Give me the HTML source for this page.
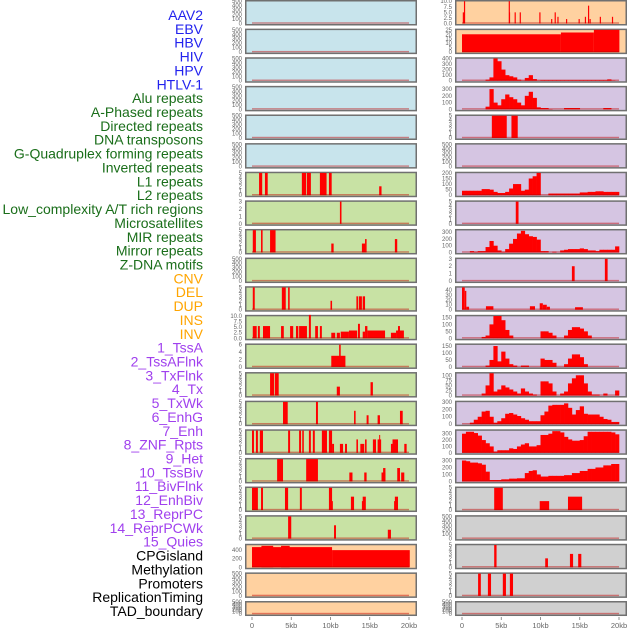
<!DOCTYPE html>
<html><head><meta charset="utf-8">
<style>
html,body{margin:0;padding:0;background:#fff;}
svg{display:block;font-family:"Liberation Sans",sans-serif;}
</style></head>
<body>
<svg id="chart" width="630" height="630" viewBox="0 0 630 630" xmlns="http://www.w3.org/2000/svg"></svg>
<script>
const labels = ["AAV2","EBV","HBV","HIV","HPV","HTLV-1","Alu repeats","A-Phased repeats","Directed repeats","DNA transposons","G-Quadruplex forming repeats","Inverted repeats","L1 repeats","L2 repeats","Low_complexity A/T rich regions","Microsatellites","MIR repeats","Mirror repeats","Z-DNA motifs","CNV","DEL","DUP","INS","INV","1_TssA","2_TssAFlnk","3_TxFlnk","4_Tx","5_TxWk","6_EnhG","7_Enh","8_ZNF_Rpts","9_Het","10_TssBiv","11_BivFlnk","12_EnhBiv","13_ReprPC","14_ReprPCWk","15_Quies","CPGisland","Methylation","Promoters","ReplicationTiming","TAD_boundary"];
const labelGroups = [6,13,5,15,5];
const groupColors = ["#2222ee","#1a6e1a","#ffa500","#a040ee","#000000"];
const xTicks = [0,5,10,15,20];
const xTickLabels = ["0","5kb","10kb","15kb","20kb"];
const leftBg = ["b","b","b","b","b","b","g","g","g","g","g","g","g","g","g","g","g","g","g","o","o","o"];
const rightBg = ["o","o","p","p","p","p","p","p","p","p","p","p","p","p","p","p","p","y","y","y","y","y"];
const T500 = ["0","100","200","300","400","500"];
const T5 = ["0","1","2","3","4","5"];
const leftTicks = [T500,T500,T500,T500,T500,T500,T5,["0","1","2","3"],T5,T500,T5,["0.0","2.5","5.0","7.5","10.0"],["0","2","4","6"],T5,T5,T5,T5,T5,T5,["0","200","400"],T500,T500];
const leftMax = [500,500,500,500,500,500,5,3,5,500,5,10,6,5,5,5,5,5,5,520,500,500];
const rightTicks = [["0.0","2.5","5.0","7.5","10.0"],["0","5","10","15","20","25"],["0","100","200","300","400"],["0","100","200","300"],T5,T500,["0","50","100","150","200"],T5,["0","100","200","300"],["0","1","2","3"],["0","10","20","30","40"],["0","50","100","150"],["0","50","100","150"],["0","25","50","75","100"],["0","100","200","300"],["0","100","200","300"],["0","100","200","300"],T5,T500,T5,T5,T500];
const rightMax = [10,25,400,330,5,500,200,5,330,3,45,160,160,110,300,350,320,5,500,5,5,500];

// segments [startKb, endKb, value]
const leftSegs = {
 6:[[0.9,1.3,5],[1.65,2.0,5],[6.35,6.9,5],[7.0,7.5,5],[8.65,9.5,5],[9.8,10.15,5],[16.2,16.5,2]],
 7:[[11.2,11.4,3]],
 8:[[0.1,0.5,5],[1.15,1.35,5],[2.3,3.0,5],[10.1,10.4,2],[14.0,14.4,2],[14.4,14.6,3],[18.2,18.5,3]],
 10:[[0.1,0.35,5],[3.8,4.3,5],[4.6,4.8,5],[10.0,10.2,2],[13.3,13.5,3],[13.6,14.0,3],[14.1,14.4,3]],
 11:[[0.1,0.6,5.5],[0.75,1.0,5.5],[1.4,2.3,5.5],[3.7,4.05,5.5],[4.85,5.25,5.5],[5.6,5.9,5.5],[6.0,7.0,5.5],[7.25,7.5,10.5],[8.05,8.4,5.5],[8.65,8.9,5.5],[10.1,10.6,2.5],[10.8,11.2,2.5],[11.3,12.35,3],[12.35,13.4,3.5],[13.5,13.75,6.5],[14.1,14.4,3],[14.4,14.7,5.5],[14.7,16.95,3.5],[17.7,18.35,2.5],[18.35,19.35,3.5],[18.6,18.85,5.5]],
 12:[[10.1,11.9,3],[11.1,11.3,6]],
 13:[[2.3,2.8,5],[2.9,3.4,5],[10.8,11.2,2],[15.1,15.4,3]],
 14:[[3.95,4.55,5],[8.15,8.4,5],[13.0,13.2,3],[14.6,14.85,2],[16.0,16.3,2],[18.85,19.2,3]],
 15:[[0,0.25,5],[0.5,0.75,5],[1.0,1.4,5],[4.6,4.85,5],[6.0,6.25,5],[6.4,6.6,5],[7.25,7.5,5],[7.75,8.0,5],[8.9,9.55,5],[9.8,10.2,5],[10.2,10.45,2],[11.2,11.6,2],[11.85,12.1,2],[13.3,13.5,3],[13.8,14.3,2],[14.4,14.6,3],[15.4,15.8,3],[16.0,16.45,3],[16.2,16.3,4],[17.7,17.9,2],[17.9,18.6,3],[19.4,19.7,2]],
 16:[[3.2,3.95,5],[6.9,8.4,5],[12.4,12.8,2],[14.3,14.6,2],[16.5,17.0,2],[16.7,17.0,3],[18.5,18.85,3],[19.0,19.4,2]],
 17:[[0,0.75,5],[1.15,1.4,5],[4.2,4.6,5],[6.1,6.35,5],[9.8,10.2,5],[10.15,10.3,2],[12.6,13.0,3],[14.0,14.3,2],[14.1,14.5,3],[18.1,18.3,2],[18.2,18.6,3]],
 18:[[4.6,5.0,5],[10.45,10.7,3],[17.3,17.7,2]],
 19:[[0,10.2,470],[1.2,2.7,500],[3.7,4.8,500],[10.2,20.1,400]]
};
const rightSegs = {
 0:[[0.1,0.25,5],[0.25,0.4,10],[5.95,6.1,10],[6.0,6.1,5],[6.7,6.85,5],[7.35,7.5,5],[9.85,10.0,5],[11.35,11.5,2],[11.8,11.95,5],[12.15,12.3,3],[13.25,13.4,2],[14.85,15.0,2],[15.65,15.8,3],[16.05,16.2,8],[16.25,16.4,2],[17.55,17.7,3],[19.1,19.25,3]],
 1:[[0,12.6,20],[12.6,16.8,22],[16.8,20.05,25]],
 4:[[3.8,5.7,5],[6.3,7.1,5]],
 7:[[6.85,7.2,5]],
 9:[[14.0,14.35,2],[18.2,18.55,3]],
 10:[[0,0.35,45],[0.35,0.55,38],[0.55,0.9,6],[3.05,4.0,7],[8.65,9.3,7],[9.9,10.3,13],[10.3,10.8,10],[10.8,11.2,6],[14.4,15.4,5]],
 17:[[4.1,5.2,5],[9.9,11.1,2],[13.5,15.3,3]],
 19:[[4.1,4.4,5],[10.6,10.95,2],[13.75,14.15,3],[14.8,15.2,3]],
 20:[[2.05,2.4,5],[3.3,3.7,5],[5.2,5.6,5],[6.1,6.5,5]]
};
// profile values in 0.5kb bins starting at 0kb
const rightBins = {
 2:[0,0,0,0,0,0,20,60,400,350,200,100,80,60,20,5,50,100,30,5,10,10,10,10,10,10,10,10,10,10,10,10,10,10,10,10,10,25,5,0],
 3:[0,0,0,0,0,0,40,300,100,60,150,220,180,150,100,60,200,260,170,30,20,20,5,0,0,0,20,20,20,20,0,0,0,0,0,0,20,20,0,0],
 6:[40,40,40,40,40,55,55,50,30,20,20,30,60,100,100,40,50,150,170,200,0,0,15,15,15,15,15,15,15,15,25,25,30,30,35,35,30,30,30,30],
 8:[0,0,20,10,20,20,80,170,100,30,10,50,130,200,280,320,270,240,230,190,20,20,0,10,0,30,40,50,50,50,60,50,30,30,20,40,40,40,40,90],
 11:[0,0,0,0,0,10,20,100,160,160,130,60,20,0,0,0,0,0,0,0,50,50,40,20,0,0,20,60,80,80,70,50,20,0,0,0,0,0,0,0],
 12:[0,0,0,0,0,0,10,50,150,40,110,60,20,10,0,10,10,0,0,0,60,50,50,30,0,0,20,60,90,90,70,20,0,0,0,0,0,0,0,0],
 13:[0,0,0,0,0,10,50,110,20,30,50,40,30,20,10,35,20,10,5,0,70,70,60,20,0,10,20,60,85,100,100,60,20,5,5,0,10,0,0,25],
 14:[0,0,20,60,100,170,180,100,20,40,80,140,150,130,110,80,60,40,40,40,120,170,250,260,260,260,280,220,130,190,240,140,130,130,130,100,70,60,30,30],
 15:[300,330,330,310,270,200,150,100,20,40,40,40,70,60,100,130,150,100,100,120,280,280,300,340,340,320,250,210,190,190,200,260,330,330,330,330,330,330,320,290],
 16:[300,290,270,270,260,240,140,20,20,20,30,30,40,40,45,45,120,150,160,100,70,70,80,80,80,80,90,90,120,120,150,150,180,180,200,200,230,230,250,250]
};

const svg = document.getElementById('chart');
const NS = 'http://www.w3.org/2000/svg';
const bgColor = {b:"#c8e4ec", g:"#c8e2a4", o:"#ffd1a0", p:"#d5c5e2", y:"#d0d0d0"};
const panelX = [245, 455];
const panelW = 172;
const rowStep = 28.62;
function mk(tag, attrs){ const e=document.createElementNS(NS,tag); for(const k in attrs) e.setAttribute(k,attrs[k]); return e; }
function xScale(side, kb){ return panelX[side] + 7 + kb*7.85; }
function rowTop(i){ return i*rowStep; }
function rowH(i){ return i===21 ? 15 : 25.5; }
function yScale(i, v, max){ const t=rowTop(i), h=rowH(i); const y0=t+h-2, y1=t+1.2; return y0 - (v/max)*(y0-y1); }

// labels
let li=0;
labelGroups.forEach((n,g)=>{
  for(let k=0;k<n;k++){
    const t = mk('text',{x:203,y:(15+li*13.86+5).toFixed(1),'text-anchor':'end','font-size':'14',fill:groupColors[g]});
    
    
    t.textContent = labels[li];
    svg.appendChild(t);
    li++;
  }
});

function drawPanel(side, i){
  const bg = side===0 ? leftBg[i] : rightBg[i];
  const ticks = side===0 ? leftTicks[i] : rightTicks[i];
  const max = side===0 ? leftMax[i] : rightMax[i];
  const g = mk('g',{});
  
  
  svg.appendChild(g);
  const t=rowTop(i), h=rowH(i);
  const r = mk('rect',{x:panelX[side]+0.75,y:t+0.75,width:panelW-1.5,height:h-1.5,fill:bgColor[bg],stroke:'#707070','stroke-width':1.5});
  
  
  g.appendChild(r);
  ticks.forEach(s=>{
    const v=parseFloat(s);
    const tx = mk('text',{x:panelX[side]-3,y:(yScale(i,v,max)+2).toFixed(1),'text-anchor':'end','font-size':'6',fill:'#666'});
    
    
    tx.textContent=s;
    g.appendChild(tx);
  });
  const y0 = yScale(i,0,max);
  const segs = (side===0?leftSegs:rightSegs)[i] || [];
  segs.forEach(sg=>{
    const x1=xScale(side,sg[0]), x2=xScale(side,sg[1]), y=yScale(i,sg[2],max);
    const b=mk('rect',{x:x1.toFixed(2),y:y.toFixed(2),width:Math.max(1,x2-x1).toFixed(2),height:(y0-y).toFixed(2),fill:'#ff0000'});
    
    
    g.appendChild(b);
  });
  const bins = side===1 ? rightBins[i] : null;
  if(bins){
    bins.forEach((v,k)=>{
      if(v<=0) return;
      const x1=xScale(side,k*0.5), x2=xScale(side,k*0.5+0.5), y=yScale(i,v,max);
      const b=mk('rect',{x:x1.toFixed(2),y:y.toFixed(2),width:(x2-x1+0.3).toFixed(2),height:(y0-y).toFixed(2),fill:'#ff0000'});
      
      
      g.appendChild(b);
    });
  }
  const base=mk('rect',{x:xScale(side,0),y:y0-1.2,width:xScale(side,20)-xScale(side,0),height:1.4,fill:'rgba(190,0,0,0.45)'});
  
  
  g.appendChild(base);
}
for(let i=0;i<22;i++){ drawPanel(0,i); drawPanel(1,i); }

// x axes
[0,1].forEach(side=>{
  xTicks.forEach((kb,k)=>{
    const x=xScale(side,kb);
    const tk=mk('line',{x1:x,x2:x,y1:617,y2:620,stroke:'#777','stroke-width':0.8});
    
    
    svg.appendChild(tk);
    const tx=mk('text',{x:x,y:628,'text-anchor':'middle','font-size':'7.5',fill:'#666'});
    
    
    tx.textContent=xTickLabels[k];
    svg.appendChild(tx);
  });
});
</script>
</body></html>
